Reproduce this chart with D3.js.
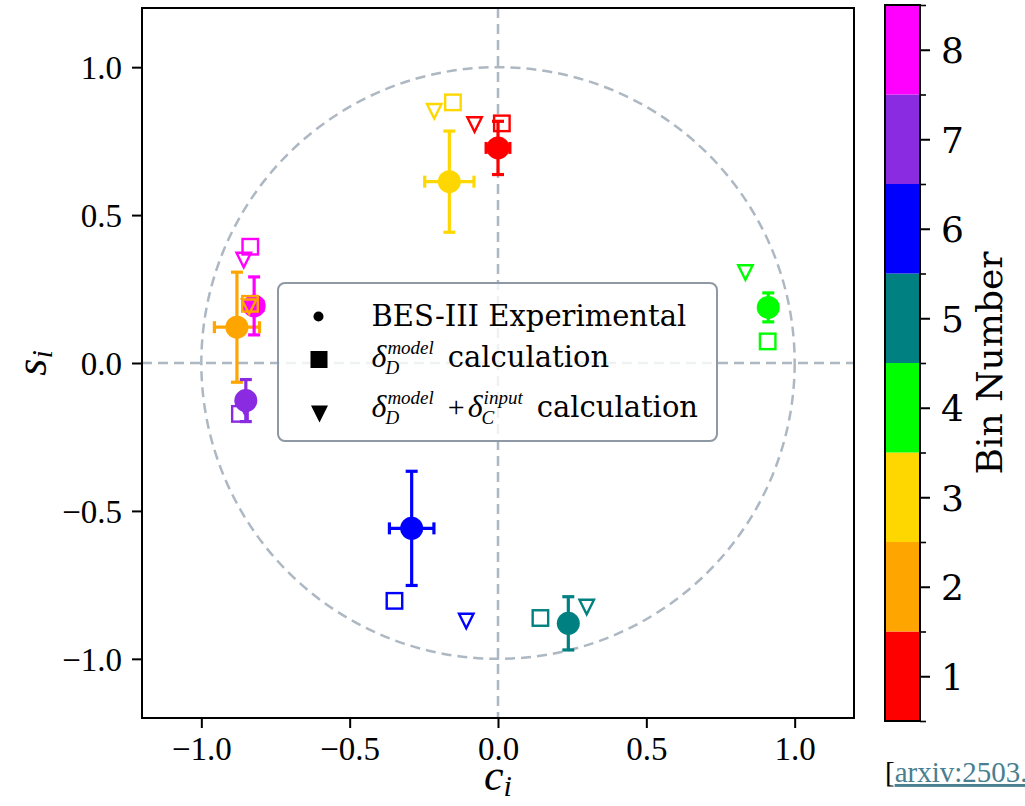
<!DOCTYPE html>
<html>
<head>
<meta charset="utf-8">
<script src="https://cdn.jsdelivr.net/npm/d3@7"></script>
<style>
  html, body { margin: 0; padding: 0; background: #ffffff; }
  svg { display: block; }
</style>
</head>
<body>
<script>
// ---- data: strong-phase parameters per bin ----
const bins = [1, 2, 3, 4, 5, 6, 7, 8];
const binColors = ["#ff0000", "#ffa500", "#ffd700", "#00ff00", "#008080", "#0000ff", "#8a2be2", "#ff00ff"];

// BES-III measured c_i, s_i with uncertainties
const expC    = [0.000, -0.880, -0.164, 0.911, 0.237, -0.291, -0.850, -0.822];
const expS    = [0.727,  0.121,  0.613, 0.188, -0.880, -0.559, -0.127, 0.193];
const expCErr = [0.040,  0.076,  0.083, 0.020, 0.020, 0.075, 0.020, 0.030];
const expSErr = [0.090,  0.186,  0.171, 0.049, 0.090, 0.193, 0.071, 0.098];

// delta_D^model calculation
const modelC = [0.013, -0.836, -0.152, 0.909, 0.143, -0.349, -0.870, -0.835];
const modelS = [0.810,  0.200,  0.881, 0.073, -0.862, -0.804, -0.172, 0.393];

// delta_D^model + delta_C^input calculation
const inputC = [-0.079, -0.839, -0.215, 0.834, 0.299, -0.107, -0.855, -0.857];
const inputS = [ 0.806,  0.190,  0.851, 0.306, -0.825, -0.872, -0.145, 0.348];

const axisTicks = [-1.0, -0.5, 0.0, 0.5, 1.0];

// ---- figure ----
const W = 1025, H = 806;
const svg = d3.select("body").append("svg").attr("width", W).attr("height", H);

const plot = { left: 142, right: 854, top: 8, bottom: 718 };
const x = d3.scaleLinear().domain([-1.2, 1.2]).range([plot.left, plot.right]);
const y = d3.scaleLinear().domain([-1.2, 1.2]).range([plot.bottom, plot.top]);

const tickFont = "'Liberation Serif', serif";
const textFont = "'DejaVu Serif', serif";
const mathFont = "'Liberation Serif', serif";
const fmt = v => (v < 0 ? "\u2212" : "") + Math.abs(v).toFixed(1);

const guideColor = "#adb8c3";
const guideDash = "10,6";
const guideWidth = 2.5;

// clip region for the data area
svg.append("defs").append("clipPath").attr("id", "plotClip")
  .append("rect").attr("x", plot.left).attr("y", plot.top)
  .attr("width", plot.right - plot.left).attr("height", plot.bottom - plot.top);

const area = svg.append("g").attr("clip-path", "url(#plotClip)");

// guides: axes through origin and unit circle
area.append("line")
  .attr("x1", x(0)).attr("x2", x(0)).attr("y1", plot.top).attr("y2", plot.bottom)
  .attr("stroke", guideColor).attr("stroke-width", guideWidth).attr("stroke-dasharray", guideDash);
area.append("line")
  .attr("x1", plot.left).attr("x2", plot.right).attr("y1", y(0)).attr("y2", y(0))
  .attr("stroke", guideColor).attr("stroke-width", guideWidth).attr("stroke-dasharray", guideDash);
area.append("ellipse")
  .attr("cx", x(0)).attr("cy", y(0))
  .attr("rx", x(1) - x(0)).attr("ry", y(0) - y(1))
  .attr("fill", "none").attr("stroke", guideColor).attr("stroke-width", guideWidth)
  .attr("stroke-dasharray", guideDash);

// experimental points with error bars
const capHalf = 6;
const expG = area.append("g");
bins.forEach((b, i) => {
  const g = expG.append("g").attr("stroke", binColors[i]).attr("fill", binColors[i]);
  const cx = x(expC[i]), cy = y(expS[i]);
  const x0 = x(expC[i] - expCErr[i]), x1 = x(expC[i] + expCErr[i]);
  const y0 = y(expS[i] - expSErr[i]), y1 = y(expS[i] + expSErr[i]);
  g.append("line").attr("x1", x0).attr("x2", x1).attr("y1", cy).attr("y2", cy).attr("stroke-width", 3.2);
  g.append("line").attr("x1", cx).attr("x2", cx).attr("y1", y0).attr("y2", y1).attr("stroke-width", 3.2);
  [x0, x1].forEach(v => g.append("line").attr("x1", v).attr("x2", v)
    .attr("y1", cy - capHalf).attr("y2", cy + capHalf).attr("stroke-width", 3.2));
  [y0, y1].forEach(v => g.append("line").attr("y1", v).attr("y2", v)
    .attr("x1", cx - capHalf).attr("x2", cx + capHalf).attr("stroke-width", 3.2));
  g.append("circle").attr("cx", cx).attr("cy", cy).attr("r", 11.5).attr("stroke", "none");
});

// model squares
const sq = 15.5;
area.append("g").selectAll("rect").data(bins).join("rect")
  .attr("x", (d, i) => x(modelC[i]) - sq / 2)
  .attr("y", (d, i) => y(modelS[i]) - sq / 2)
  .attr("width", sq).attr("height", sq)
  .attr("fill", "none")
  .attr("stroke", (d, i) => binColors[i])
  .attr("stroke-width", 2.4);

// model + input triangles (pointing down)
const tri = (cx, cy, h) => {
  const hw = h * 0.5;
  return `M${cx - hw},${cy - h / 2}L${cx + hw},${cy - h / 2}L${cx},${cy + h / 2}Z`;
};
area.append("g").selectAll("path").data(bins).join("path")
  .attr("d", (d, i) => tri(x(inputC[i]), y(inputS[i]), 14.5))
  .attr("fill", "none")
  .attr("stroke", (d, i) => binColors[i])
  .attr("stroke-width", 2.4)
  .attr("stroke-linejoin", "miter");

// frame
svg.append("rect")
  .attr("x", plot.left).attr("y", plot.top)
  .attr("width", plot.right - plot.left).attr("height", plot.bottom - plot.top)
  .attr("fill", "none").attr("stroke", "#000").attr("stroke-width", 2);

// axes
const xAxis = svg.append("g").attr("transform", `translate(0,${plot.bottom})`)
  .call(d3.axisBottom(x).tickValues(axisTicks).tickFormat(fmt).tickSize(10).tickPadding(9));
const yAxis = svg.append("g").attr("transform", `translate(${plot.left},0)`)
  .call(d3.axisLeft(y).tickValues(axisTicks).tickFormat(fmt).tickSize(10).tickPadding(10));
[xAxis, yAxis].forEach(a => {
  a.select(".domain").remove();
  a.selectAll(".tick line").attr("stroke", "#000").attr("stroke-width", 2);
  a.selectAll(".tick text").attr("fill", "#000")
    .style("font-family", tickFont).style("font-size", "33px");
});
yAxis.selectAll(".tick text").attr("dy", "0.34em");

// axis titles: c_i and s_i
const xl = svg.append("text").attr("x", x(0)).attr("y", 790)
  .attr("text-anchor", "middle")
  .style("font-family", mathFont).style("font-style", "italic").style("font-size", "44px");
xl.append("tspan").text("c");
xl.append("tspan").attr("dy", 6).style("font-size", "30px").text("i");

const yl = svg.append("text")
  .attr("transform", `translate(46,${y(0)}) rotate(-90)`)
  .attr("text-anchor", "middle")
  .style("font-family", mathFont).style("font-style", "italic").style("font-size", "44px");
yl.append("tspan").text("s");
yl.append("tspan").attr("dy", 6).style("font-size", "30px").text("i");

// ---- legend ----
const legend = svg.append("g");
legend.append("rect")
  .attr("x", 278).attr("y", 283).attr("width", 439).attr("height", 158)
  .attr("rx", 7).attr("ry", 7)
  .attr("fill", "#ffffff").attr("fill-opacity", 0.8)
  .attr("stroke", "#8e99a5").attr("stroke-width", 2);

legend.append("circle").attr("cx", 318.5).attr("cy", 316.5).attr("r", 5).attr("fill", "#000");
legend.append("rect").attr("x", 310.5).attr("y", 351).attr("width", 17).attr("height", 17).attr("fill", "#000");
legend.append("path").attr("d", tri(319.5, 414, 17)).attr("fill", "#000");

// measuring helper for laying out math runs
const meas = svg.append("text").attr("x", -1000).attr("y", -1000);
function textWidth(str, family, size, style) {
  meas.style("font-family", family).style("font-size", size + "px").style("font-style", style || "normal").text(str);
  return meas.node().getComputedTextLength();
}
function run(str, xx, yy, family, size, style) {
  legend.append("text").attr("x", xx).attr("y", yy)
    .style("font-family", family).style("font-size", size + "px")
    .style("font-style", style || "normal").attr("fill", "#000").text(str);
  return textWidth(str, family, size, style);
}
// delta with superscript/subscript; returns end x
function delta(x0, base, sup, sub) {
  const wd = run("\u03b4", x0, base, mathFont, 32, "italic");
  const ws = run(sup, x0 + wd + 1, base - 13, mathFont, 19, "italic");
  const wb = run(sub, x0 + wd - 1, base + 7, mathFont, 19, "italic");
  return x0 + wd + 1 + Math.max(ws, wb);
}

const legFs = 29;
run("BES-III Experimental", 371.5, 326, textFont, legFs);

let e2 = delta(371.5, 366.5, "model", "D");
run("calculation", e2 + 14, 366.5, textFont, legFs);

let e3 = delta(371.5, 416.5, "model", "D");
const wp = run("+", e3 + 14, 416.5, mathFont, 30);
let e4 = delta(e3 + 14 + wp + 3, 416.5, "input", "C");
run("calculation", e4 + 14, 416.5, textFont, legFs);

// ---- colorbar ----
const cb = { left: 885, right: 920, top: 5, bottom: 721 };
const cy = d3.scaleLinear().domain([0.5, 8.5]).range([cb.bottom, cb.top]);
svg.append("g").selectAll("rect").data(bins).join("rect")
  .attr("x", cb.left).attr("width", cb.right - cb.left)
  .attr("y", d => cy(d + 0.5)).attr("height", d => cy(d - 0.5) - cy(d + 0.5))
  .attr("fill", (d, i) => binColors[i]);
svg.append("rect")
  .attr("x", cb.left).attr("y", cb.top)
  .attr("width", cb.right - cb.left).attr("height", cb.bottom - cb.top)
  .attr("fill", "none").attr("stroke", "#000").attr("stroke-width", 2);

const cbMinor = svg.append("g").attr("transform", `translate(${cb.right},0)`)
  .call(d3.axisRight(cy).tickValues(d3.range(0.5, 8.6, 1)).tickSize(6).tickFormat(""));
cbMinor.select(".domain").remove();
cbMinor.selectAll(".tick line").attr("stroke", "#000").attr("stroke-width", 1.6);

const cbAxis = svg.append("g").attr("transform", `translate(${cb.right},0)`)
  .call(d3.axisRight(cy).tickValues(bins).tickSize(10).tickPadding(11).tickFormat(d3.format("d")));
cbAxis.select(".domain").remove();
cbAxis.selectAll(".tick line").attr("stroke", "#000").attr("stroke-width", 2);
cbAxis.selectAll(".tick text").attr("fill", "#000")
  .style("font-family", textFont).style("font-size", "36px").attr("dy", "0.36em");

svg.append("text")
  .attr("transform", `translate(1002,${(cb.top + cb.bottom) / 2}) rotate(-90)`)
  .attr("text-anchor", "middle")
  .style("font-family", textFont).style("font-size", "36px")
  .attr("fill", "#000").text("Bin Number");

// ---- source reference ----
const src = svg.append("text").attr("x", 885).attr("y", 782)
  .style("font-family", "'Liberation Serif', serif").style("font-size", "29px").attr("fill", "#000");
src.append("tspan").text("[");
src.append("tspan").attr("fill", "#4a7f8f").attr("text-decoration", "underline").text("arxiv:2503.");

meas.remove();
</script>
</body>
</html>
